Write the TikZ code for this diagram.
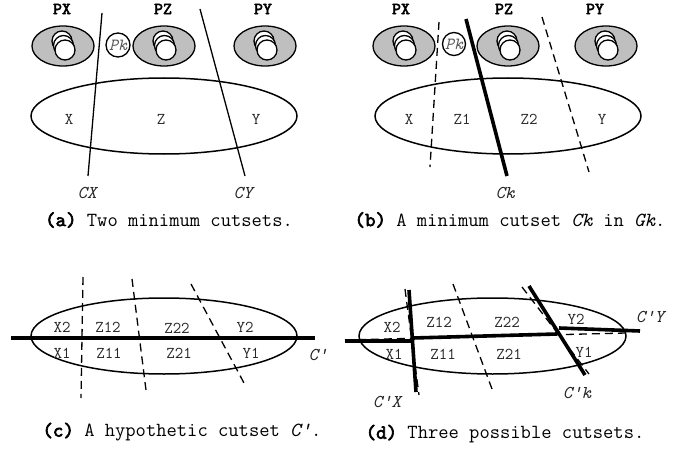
\documentclass[tikz,border=0pt]{standalone}
\usepackage{fontspec}
\newfontfamily\ttheavy{lmmono10-regular.otf}[FakeBold=3]
\usetikzlibrary{shapes.geometric}
\tikzset{
  thinline/.style={line width=1.3pt},
  thickline/.style={line width=3.6pt},
  dashcut/.style={line width=1.3pt, dash pattern=on 8pt off 5pt},
  procell/.style={ellipse, draw, line width=1.3pt, fill=gray!50, minimum width=62pt, minimum height=40pt, inner sep=0pt},
  disc/.style={circle, draw, line width=1.3pt, fill=white, minimum size=20pt, inner sep=0pt},
  pkcircle/.style={circle, draw, line width=1.3pt, fill=white, minimum size=24pt, inner sep=0pt,
     font=\ttfamily\fontsize{17}{18}\selectfont\itshape, text=black!65},
  bigell/.style={ellipse, draw, line width=1.5pt, minimum width=266pt, minimum height=76pt, inner sep=0pt},
  lab/.style={inner sep=0pt, text=black!85, font=\ttfamily\fontsize{16.5}{18}\selectfont},
  cutlab/.style={inner sep=0pt, text=black!85, font=\ttfamily\fontsize{18}{20}\selectfont\itshape},
  plab/.style={inner sep=0pt, font=\ttheavy\fontsize{17}{19}\selectfont},
  captxt/.style={inner sep=0pt, font=\ttfamily\fontsize{20}{22}\selectfont},
  proc/.pic={
    \node[procell] (-e) at (0,0) {};
    \node[disc] (-d1) at (-1,-5) {};
    \node[disc] (-d2) at (0.5,-0.5) {};
    \node[disc] (-d3) at (2,4) {};
  }
}
\newcommand\capb[1]{{\ttheavy #1}}
\begin{document}
\begin{tikzpicture}[x=1pt,y=-1pt]
\useasboundingbox[fill=white] (0,0) rectangle (694,452);

% ---------- panel (a) ----------
\node[plab] (apx) at (62,9) {PX};
\node[plab] (apz) at (163,9) {PZ};
\node[plab] (apy) at (263,9) {PY};
\pic (aprx) at (63,46) {proc};
\pic (aprz) at (164,46) {proc};
\pic (apry) at (265,46) {proc};
\node[pkcircle] (apk) at (118,45) {Pk};
\node[bigell] (aell) at (164,116) {};
\node[lab] (ax) at (69,119) {X};
\node[lab] (az) at (161,119) {Z};
\node[lab] (ay) at (256,119) {Y};
\coordinate (acx1) at (102,13); \coordinate (acx2) at (88,176);
\coordinate (acy1) at (200,9);  \coordinate (acy2) at (245,176);
\draw[thinline] (acx1) -- (acx2);
\draw[thinline] (acy1) -- (acy2);
\node[cutlab] (acxl) at (87,193) {CX};
\node[cutlab] (acyl) at (243,193) {CY};
\node[captxt] (acap) at (169,220) {\capb{(a)} Two minimum cutsets.};

% ---------- panel (b) ----------
\node[plab] (bpx) at (401,9) {PX};
\node[plab] (bpz) at (504,9) {PZ};
\node[plab] (bpy) at (595,9) {PY};
\pic (bprx) at (404,46) {proc};
\pic (bprz) at (508,46) {proc};
\pic (bpry) at (606,46) {proc};
\node[pkcircle, minimum size=23pt] (bpk) at (454,44) {Pk};
\node[bigell] (bell) at (508,116) {};
\node[lab] (bx) at (409,119) {X};
\node[lab] (bz1) at (462,119) {Z1};
\node[lab] (bz2) at (529,119) {Z2};
\node[lab] (by) at (602,119) {Y};
\coordinate (bd1a) at (439,22); \coordinate (bd1b) at (430,167);
\coordinate (bcka) at (466,19); \coordinate (bckb) at (507,176);
\coordinate (bd2a) at (542,17); \coordinate (bd2b) at (589,172);
\draw[dashcut] (bd1a) -- (bd1b);
\draw[thickline] (bcka) -- (bckb);
\draw[dashcut] (bd2a) -- (bd2b);
\node[cutlab] (bckl) at (505,193) {Ck};
\node[captxt] (bcap) at (510,220) {\capb{(b)} A minimum cutset \textit{Ck} in \textit{Gk}.};

% ---------- panel (c) ----------
\node[bigell] (cell) at (164,336) {};
\coordinate (chl) at (11,338); \coordinate (chr) at (315,338);
\draw[thickline, line width=3.2pt] (chl) -- (chr);
\coordinate (cd1a) at (83,277);  \coordinate (cd1b) at (81,398);
\coordinate (cd2a) at (132,279); \coordinate (cd2b) at (146,390);
\coordinate (cd3a) at (191,284); \coordinate (cd3b) at (244,383);
\draw[dashcut] (cd1a) -- (cd1b);
\draw[dashcut] (cd2a) -- (cd2b);
\draw[dashcut] (cd3a) -- (cd3b);
\node[lab] (cx2) at (62,327) {X2};
\node[lab] (cz12) at (108,327) {Z12};
\node[lab] (cz22) at (177,328) {Z22};
\node[lab] (cy2) at (245,327) {Y2};
\node[lab] (cx1) at (62,353) {X1};
\node[lab] (cz11) at (109,353) {Z11};
\node[lab] (cz21) at (179,353) {Z21};
\node[lab] (cy1) at (251,353) {Y1};
\node[cutlab] (ccl) at (318,355) {C'};
\fill (344.5,338.5) rectangle (346,340);
\node[captxt] (ccap) at (182,432) {\capb{(c)} A hypothetic cutset \textit{C'}.};

% ---------- panel (d) ----------
\node[bigell, minimum width=267pt] (dell) at (492.5,336) {};
\coordinate (ddha) at (345,340); \coordinate (ddhb) at (626,333);
\coordinate (ddva) at (405,289); \coordinate (ddvb) at (419,395);
\coordinate (ddma) at (453,284); \coordinate (ddmb) at (492,389);
\coordinate (ddka) at (522,287); \coordinate (ddkb) at (589,374);
\draw[dashcut] (ddha) -- (ddhb);
\draw[dashcut] (ddva) -- (ddvb);
\draw[dashcut] (ddma) -- (ddmb);
\draw[dashcut] (ddka) -- (ddkb);
\coordinate (dva) at (409,290); \coordinate (dvb) at (416,392);
\coordinate (dla) at (345,341); \coordinate (dlb) at (412,341);
\coordinate (dma) at (413,338); \coordinate (dmb) at (557,334);
\coordinate (dka) at (529,286); \coordinate (dkb) at (585,375);
\coordinate (dya) at (559,328); \coordinate (dyb) at (640,331);
\draw[thickline] (dva) -- (dvb);
\draw[thickline] (dla) -- (dlb);
\draw[thickline] (dma) -- (dmb);
\draw[thickline] (dka) -- (dkb);
\draw[thickline] (dya) -- (dyb);
\node[lab] (dx2) at (392,327) {X2};
\node[lab] (dz12) at (439,322) {Z12};
\node[lab] (dz22) at (507,322) {Z22};
\node[lab] (dy2) at (576,319) {Y2};
\node[lab] (dx1) at (394,354) {X1};
\node[lab] (dz11) at (443,354) {Z11};
\node[lab] (dz21) at (509,354) {Z21};
\node[lab] (dy1) at (584,352) {Y1};
\node[cutlab] (dcxl) at (387,402) {C'X};
\node[cutlab] (dckl) at (577,393) {C'k};
\node[cutlab] (dcyl) at (650,317) {C'Y};
\node[captxt] (dcap) at (505,434) {\capb{(d)} Three possible cutsets.};
\end{tikzpicture}
\end{document}
